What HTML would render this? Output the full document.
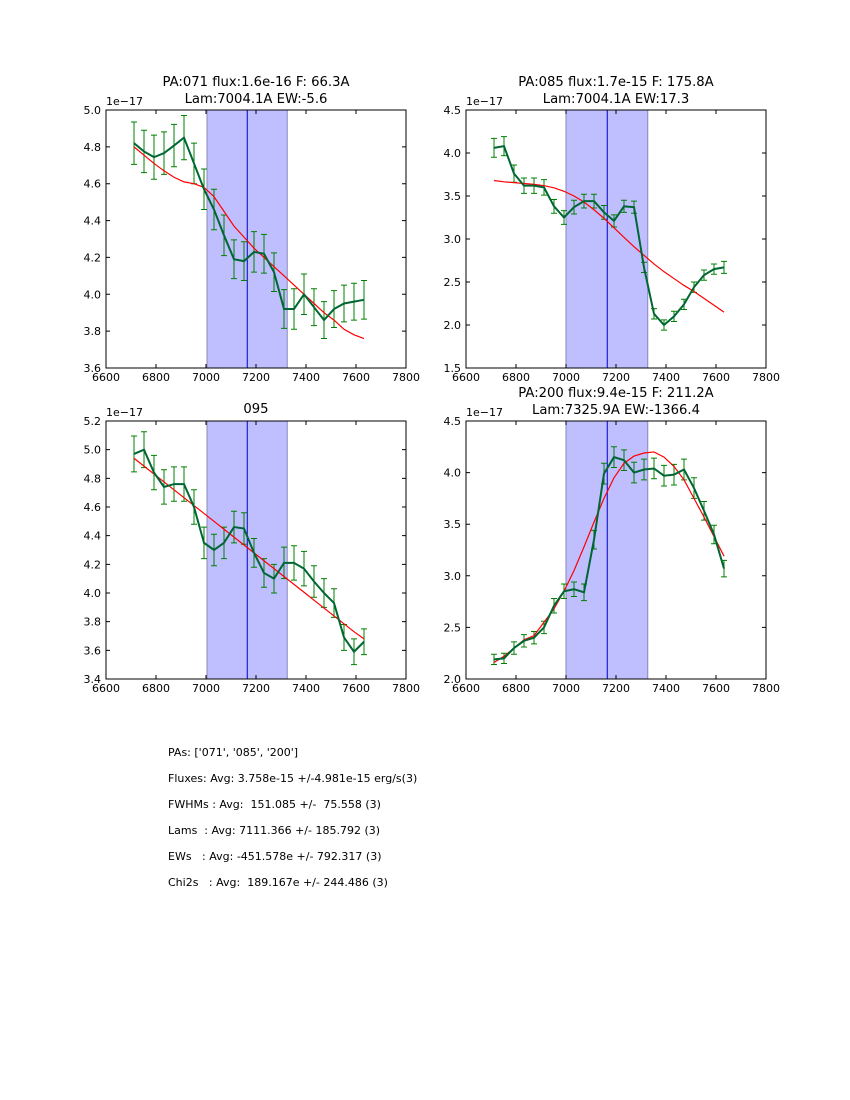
<!DOCTYPE html>
<html><head><meta charset="utf-8"><style>
body{margin:0;background:#fff;}
svg{display:block;font-family:"DejaVu Sans","Liberation Sans",sans-serif;}
</style></head><body>
<svg id="fig" width="850" height="1100" xmlns="http://www.w3.org/2000/svg"></svg>
<script>
const wavelengths=[6712,6752,6792,6832,6872,6912,6952,6992,7032,7072,7112,7152,7192,7232,7272,7312,7352,7392,7432,7472,7512,7552,7592,7632];
const titles1=["PA:071 flux:1.6e-16 F: 66.3A","PA:085 flux:1.7e-15 F: 175.8A","095","PA:200 flux:9.4e-15 F: 211.2A"];
const titles2=["Lam:7004.1A EW:-5.6","Lam:7004.1A EW:17.3","","Lam:7325.9A EW:-1366.4"];
const flux071=[4.82,4.775,4.744,4.766,4.807,4.85,4.71,4.57,4.46,4.32,4.19,4.18,4.23,4.22,4.12,3.92,3.92,4.0,3.93,3.86,3.92,3.95,3.96,3.97];
const err071=[0.115,0.115,0.12,0.115,0.115,0.12,0.11,0.11,0.11,0.11,0.105,0.105,0.11,0.105,0.105,0.105,0.11,0.11,0.1,0.1,0.1,0.1,0.1,0.105];
const fit071=[4.80,4.755,4.71,4.67,4.635,4.61,4.60,4.58,4.53,4.45,4.37,4.31,4.25,4.20,4.15,4.10,4.05,4.00,3.95,3.90,3.86,3.81,3.78,3.76];
const flux085=[4.06,4.08,3.76,3.62,3.62,3.60,3.38,3.25,3.37,3.44,3.44,3.31,3.21,3.38,3.37,2.67,2.13,2.0,2.10,2.24,2.44,2.58,2.65,2.67];
const err085=[0.11,0.11,0.1,0.09,0.09,0.09,0.08,0.08,0.08,0.08,0.08,0.08,0.07,0.07,0.07,0.06,0.06,0.06,0.06,0.06,0.06,0.06,0.06,0.07];
const fit085=[3.68,3.665,3.655,3.645,3.635,3.62,3.595,3.555,3.50,3.43,3.34,3.24,3.13,3.02,2.91,2.81,2.71,2.62,2.54,2.46,2.39,2.31,2.23,2.15];
const flux095=[4.97,5.0,4.84,4.74,4.76,4.76,4.60,4.35,4.30,4.35,4.46,4.45,4.28,4.14,4.10,4.21,4.21,4.17,4.08,4.0,3.93,3.69,3.59,3.66];
const err095=[0.125,0.125,0.12,0.12,0.12,0.12,0.12,0.11,0.11,0.11,0.11,0.11,0.1,0.1,0.1,0.11,0.12,0.12,0.11,0.1,0.1,0.09,0.09,0.09];
const fit095=[4.94,4.885,4.83,4.775,4.72,4.665,4.61,4.555,4.50,4.445,4.39,4.335,4.28,4.225,4.17,4.115,4.06,4.005,3.95,3.895,3.84,3.785,3.73,3.68];
const flux200=[2.19,2.20,2.30,2.37,2.40,2.50,2.71,2.85,2.87,2.84,3.35,3.99,4.15,4.12,4.0,4.03,4.04,3.97,3.98,4.03,3.85,3.63,3.40,3.07];
const err200=[0.05,0.05,0.06,0.06,0.06,0.06,0.07,0.07,0.07,0.08,0.09,0.1,0.1,0.1,0.1,0.1,0.1,0.1,0.1,0.1,0.1,0.09,0.09,0.08];
const fit200=[2.16,2.22,2.30,2.38,2.42,2.55,2.68,2.85,3.05,3.28,3.52,3.75,3.95,4.09,4.16,4.19,4.20,4.15,4.06,3.93,3.75,3.57,3.38,3.19];
const xTicks=[6600,6800,7000,7200,7400,7600,7800];
const yTicks=[[3.6,3.8,4.0,4.2,4.4,4.6,4.8,5.0],[1.5,2.0,2.5,3.0,3.5,4.0,4.5],[3.4,3.6,3.8,4.0,4.2,4.4,4.6,4.8,5.0,5.2],[2.0,2.5,3.0,3.5,4.0,4.5]];
const yLabels=[["3.6","3.8","4.0","4.2","4.4","4.6","4.8","5.0"],["1.5","2.0","2.5","3.0","3.5","4.0","4.5"],["3.4","3.6","3.8","4.0","4.2","4.4","4.6","4.8","5.0","5.2"],["2.0","2.5","3.0","3.5","4.0","4.5"]];
const spanLo=[7004,7000,7004,7000], spanHi=[7325,7327,7325,7327], lineX=7165;
const fluxes=[flux071,flux085,flux095,flux200], errs=[err071,err085,err095,err200], fits=[fit071,fit085,fit095,fit200];
const boxes=[[106,110],[466,110],[106,421],[466,421]]; const W=300,H=258;
const NS="http://www.w3.org/2000/svg", svg=document.getElementById('fig');
function mk(t,a,p){const e=document.createElementNS(NS,t);for(const k in a)e.setAttribute(k,a[k]);(p||svg).appendChild(e);return e;}
for(let i=0;i<4;i++){
 const [x0,y0]=boxes[i]; const yt=yTicks[i]; const ymin=yt[0],ymax=yt[yt.length-1];
 const X=v=>x0+(v-6600)/1200*W, Y=v=>y0+H-(v-ymin)/(ymax-ymin)*H;
 const g=mk('g',{});  
 const sp=mk('rect',{x:X(spanLo[i]),y:y0,width:X(spanHi[i])-X(spanLo[i]),height:H,fill:'#bfbfff',stroke:'#8888bb','stroke-width':1},g);
  
 const vl=mk('line',{x1:X(lineX),x2:X(lineX),y1:y0,y2:y0+H,stroke:'#0000cc','stroke-width':1},g);
  
 const f=fluxes[i],e=errs[i],ft=fits[i];
 for(let j=0;j<wavelengths.length;j++){const xx=X(wavelengths[j]),a=Y(f[j]+e[j]),b=Y(f[j]-e[j]);
  const eb=mk('path',{d:`M${xx},${a}V${b}M${xx-3},${a}H${xx+3}M${xx-3},${b}H${xx+3}`,stroke:'#008000','stroke-width':1,fill:'none'},g);
   }
 const fl=mk('polyline',{points:wavelengths.map((w,j)=>X(w)+','+Y(ft[j])).join(' '),stroke:'#ff0000','stroke-width':1.2,fill:'none'},g);
  
 const dl=mk('polyline',{points:wavelengths.map((w,j)=>X(w)+','+Y(f[j])).join(' '),stroke:'#006633','stroke-width':2,fill:'none'},g);
  
 const fr=mk('rect',{x:x0,y:y0,width:W,height:H,fill:'none',stroke:'#000','stroke-width':1},g);
  
 xTicks.forEach(v=>{const xx=X(v);mk('path',{d:`M${xx},${y0+H}v-4M${xx},${y0}v4`,stroke:'#000'},g);
  const t=mk('text',{x:xx,y:y0+H+13,'font-size':11,'text-anchor':'middle'},g);t.textContent=v;
   });
 yt.forEach((v,k)=>{const yy=Y(v);mk('path',{d:`M${x0},${yy}h4M${x0+W},${yy}h-4`,stroke:'#000'},g);
  const t=mk('text',{x:x0-5,y:yy+4,'font-size':11,'text-anchor':'end'},g);t.textContent=yLabels[i][k];
   });
 const o=mk('text',{x:x0,y:y0-5,'font-size':11},g);o.textContent='1e\u221217';
  
 const t1=mk('text',{x:x0+W/2,y:titles2[i]?y0-24:y0-8,'font-size':13.2,'text-anchor':'middle'},g);t1.textContent=titles1[i];
  
 if(titles2[i]){const t2=mk('text',{x:x0+W/2,y:y0-7,'font-size':13.2,'text-anchor':'middle'},g);t2.textContent=titles2[i];
  }
}
const stats=["PAs: ['071', '085', '200']","Fluxes: Avg: 3.758e-15 +/-4.981e-15 erg/s(3)","FWHMs : Avg:  151.085 +/-  75.558 (3)","Lams  : Avg: 7111.366 +/- 185.792 (3)","EWs   : Avg: -451.578e +/- 792.317 (3)","Chi2s   : Avg:  189.167e +/- 244.486 (3)"];
stats.forEach((s,k)=>{const t=mk('text',{x:168,y:756+k*26,'font-size':11,'xml:space':'preserve'});t.textContent=s;t.style.whiteSpace='pre';
  });
</script>
</body></html>
